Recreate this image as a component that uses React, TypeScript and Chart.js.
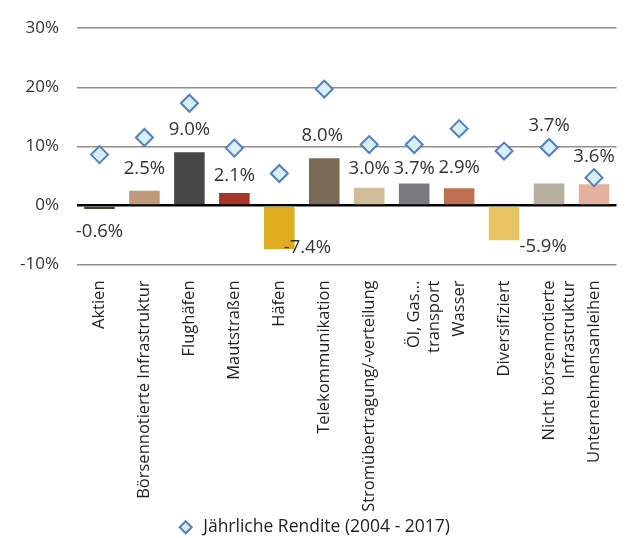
import React, { useEffect, useRef } from "react";
import { Chart, registerables } from "chart.js";

Chart.register(...registerables);

const categories: (string | string[])[] = [
  "Aktien",
  "Börsennotierte Infrastruktur",
  "Flughäfen",
  "Mautstraßen",
  "Häfen",
  "Telekommunikation",
  "Stromübertragung/-verteilung",
  ["Öl, Gas...", "transport"],
  "Wasser",
  "Diversifiziert",
  ["Nicht börsennotierte", "Infrastruktur"],
  "Unternehmensanleihen",
];

const barValues = [-0.6, 2.5, 9.0, 2.1, -7.4, 8.0, 3.0, 3.7, 2.9, -5.9, 3.7, 3.6];
const annualReturns = [8.6, 11.5, 17.3, 9.7, 5.4, 19.7, 10.3, 10.3, 13.0, 9.2, 9.8, 4.7];
const yTicks = [-10, 0, 10, 20, 30];
const legendLabel = "Jährliche Rendite (2004 - 2017)";

const barColors = [
  "#4b3a2d", "#c09a78", "#474747", "#a83427", "#dfac20", "#7a6a55",
  "#d2bd98", "#7b7b7f", "#c07052", "#e8c563", "#b8b09f", "#e4b19f",
];

// label offsets in px relative to bar end: [dx, dy]
const labelOffsets: [number, number][] = [
  [0, 23], [0, -22], [0, -23], [0, -17], [28, -1], [-2, -22],
  [0, -19], [0, -15], [0, -21], [39, 6], [0, -58], [0, -27],
];

const FONT = "'Open Sans', 'Noto Sans', sans-serif";

export default function App() {
  const ref = useRef<HTMLCanvasElement>(null);
  useEffect(() => {
    document.body.style.margin = "0";
    const labelPlugin = {
      id: "barLabels",
      afterDatasetsDraw(chart: any) {
        const meta = chart.getDatasetMeta(0);
        const ctx = chart.ctx;
        ctx.save();
        ctx.font = `18.5px ${FONT}`;
        ctx.fillStyle = "#333333";
        ctx.textAlign = "center";
        ctx.textBaseline = "middle";
        meta.data.forEach((el: any, i: number) => {
          const v = barValues[i];
          const [dx, dy] = labelOffsets[i];
          ctx.fillText(`${v.toFixed(1)}%`, el.x + dx, el.y + dy);
        });
        ctx.restore();
      },
    };
    const chart = new Chart(ref.current!, {
      type: "bar",
      data: {
        labels: categories,
        datasets: [
          {
            type: "bar",
            label: "Bars",
            data: barValues,
            backgroundColor: barColors,
            barPercentage: 0.68,
            categoryPercentage: 1,
            order: 2,
          } as any,
          {
            type: "line",
            label: legendLabel,
            data: annualReturns,
            showLine: false,
            pointStyle: "rectRot",
            pointRadius: 8.5,
            pointBorderWidth: 2,
            pointBackgroundColor: "#daeef5",
            pointBorderColor: "#4f81bd",
            backgroundColor: "#daeef5",
            borderColor: "#4f81bd",
            borderWidth: 2,
            order: 1,
          } as any,
        ],
      },
      options: {
        responsive: false,
        animation: false,
        layout: { padding: { top: 27, left: 0, right: 0, bottom: -8 } },
        plugins: {
          tooltip: { enabled: false },
          legend: {
            position: "bottom",
            labels: {
              filter: (item: any) => item.datasetIndex === 1,
              usePointStyle: true,
              boxHeight: 8.5,
              color: "#222",
              font: { family: FONT, size: 17.5 },
              padding: 4,
            },
          },
        },
        scales: {
          x: {
            grid: { display: false },
            border: { display: false },
            ticks: {
              minRotation: 90,
              maxRotation: 90,
              autoSkip: false,
              padding: 8,
              color: "#222",
              font: { family: FONT, size: 16.5 },
            },
            afterFit: (s: any) => {
              s.height = 250;
              s.paddingLeft = 0;
              s.paddingRight = 0;
            },
          },
          y: {
            min: -10,
            max: 30,
            afterBuildTicks: (s: any) => {
              s.ticks = yTicks.map((v) => ({ value: v }));
            },
            afterFit: (s: any) => {
              s.width = 77;
            },
            grid: {
              drawTicks: false,
              color: (c: any) => (c.tick && c.tick.value === 0 ? "#000000" : "#8e8e8e"),
              lineWidth: (c: any) => (c.tick && c.tick.value === 0 ? 2.5 : 1.5),
            },
            border: { display: false },
            ticks: {
              padding: 18,
              color: "#333",
              font: { family: FONT, size: 17 },
              callback: (v: any) => `${v}%`,
            },
          },
        },
      },
      plugins: [labelPlugin],
    });
    return () => chart.destroy();
  }, []);
  return (
    <div style={{ width: 627, height: 538 }}>
      <canvas ref={ref} width={627} height={538} />
    </div>
  );
}
